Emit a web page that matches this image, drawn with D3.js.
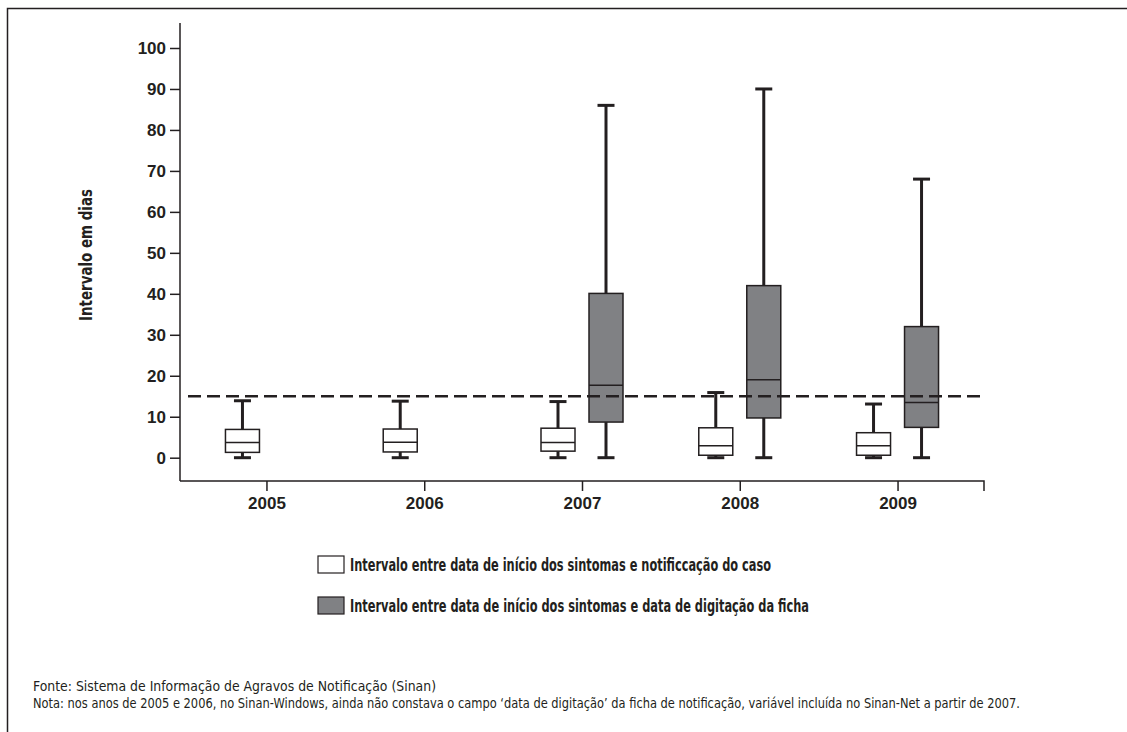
<!DOCTYPE html>
<html>
<head>
<meta charset="utf-8">
<script src="https://cdn.jsdelivr.net/npm/d3@7"></script>
<style>
  body { margin: 0; background: #fff; }
  svg text { font-family: "Liberation Sans Narrow", "DejaVu Sans Condensed", sans-serif; fill: #231f20; }
</style>
</head>
<body>
<div id="chart"></div>
<script>
// years on the x axis
const years = ["2005", "2006", "2007", "2008", "2009"];

// white boxes: início dos sintomas -> notificação
const notifLow = [0, 0, 0, 0, 0];
const notifQ1 = [1.3, 1.4, 1.6, 0.6, 0.6];
const notifMedian = [3.7, 3.75, 3.7, 2.9, 2.9];
const notifQ3 = [6.9, 7.0, 7.2, 7.3, 6.1];
const notifHigh = [13.9, 13.8, 13.7, 15.9, 13.1];

// gray boxes: início dos sintomas -> digitação (only from 2007)
const digitYears = ["2007", "2008", "2009"];
const digitLow = [0, 0, 0];
const digitQ1 = [8.7, 9.7, 7.4];
const digitMedian = [17.7, 19, 13.5];
const digitQ3 = [40.1, 42, 32];
const digitHigh = [86, 90, 68];

const yTicks = [0, 10, 20, 30, 40, 50, 60, 70, 80, 90, 100];
const refLine = 15;

const legendLabels = [
  "Intervalo entre data de início dos sintomas e notificcação do caso",
  "Intervalo entre data de início dos sintomas e data de digitação da ficha"
];
const footnotes = [
  "Fonte: Sistema de Informação de Agravos de Notificação (Sinan)",
  "Nota: nos anos de 2005 e 2006, no Sinan-Windows, ainda não constava o campo ‘data de digitação’ da ficha de notificação, variável incluída no Sinan-Net a partir de 2007."
];

const w = 1127, h = 732;
const ink = "#231f20";
const grayFill = "#808184";

const svg = d3.select("#chart").append("svg")
  .attr("width", w).attr("height", h);

// squeeze a text to a given width (the original uses a condensed face)
function fitWidth(sel, width) {
  sel.attr("textLength", width).attr("lengthAdjust", "spacingAndGlyphs");
}

// frame (top + left edges only)
svg.append("path")
  .attr("d", "M7.5,732 L7.5,8.5 L1127,8.5")
  .attr("fill", "none").attr("stroke", ink).attr("stroke-width", 1.5);

const x = d3.scalePoint().domain(years).range([180, 984]).padding(0.548);
const y = d3.scaleLinear().domain([0, 100]).range([457.7, 48]);

// y axis
const yAxis = svg.append("g").attr("transform", "translate(180,0)");
yAxis.append("line")
  .attr("x1", 0).attr("x2", 0).attr("y1", 23).attr("y2", 481)
  .attr("stroke", ink).attr("stroke-width", 1.5);
yAxis.call(d3.axisLeft(y).tickValues(yTicks).tickSize(10).tickSizeOuter(0).tickPadding(4))
  .call(g => g.select(".domain").remove());
yAxis.selectAll(".tick line").attr("stroke", ink).attr("stroke-width", 1.5);
yAxis.selectAll(".tick text").attr("font-size", 17).attr("font-weight", "bold")
  .style("font-family", "'Liberation Sans Narrow', sans-serif");

// x axis
const xAxis = svg.append("g").attr("transform", "translate(0,481)");
xAxis.call(d3.axisBottom(x).tickSize(10).tickSizeOuter(0).tickPadding(6));
xAxis.select(".domain").attr("d", "M180,0H984V10").attr("stroke", ink).attr("stroke-width", 1.5);
xAxis.selectAll(".tick line").attr("stroke", ink).attr("stroke-width", 1.5);
xAxis.selectAll(".tick text").attr("font-size", 17).attr("font-weight", "bold")
  .style("font-family", "'Liberation Sans Narrow', sans-serif");

// y axis title
svg.append("text")
  .attr("transform", "translate(92,255) rotate(-90)")
  .attr("text-anchor", "middle")
  .attr("font-size", 17).attr("font-weight", "bold")
  .text("Intervalo em dias")
  .call(fitWidth, 132);

const boxW = 34, capW = 17, offset = 24;

function drawBoxes(cls, cats, low, q1, med, q3, high, dx, fill) {
  const data = cats.map((c, i) => ({ c, low: low[i], q1: q1[i], med: med[i], q3: q3[i], high: high[i] }));
  const g = svg.append("g").attr("class", cls)
    .selectAll("g").data(data).join("g")
    .attr("transform", d => `translate(${x(d.c) + dx},0)`);
  // whiskers
  g.append("line").attr("x1", 0).attr("x2", 0)
    .attr("y1", d => y(d.high)).attr("y2", d => y(d.q3))
    .attr("stroke", ink).attr("stroke-width", 3);
  g.append("line").attr("x1", 0).attr("x2", 0)
    .attr("y1", d => y(d.q1)).attr("y2", d => y(d.low))
    .attr("stroke", ink).attr("stroke-width", 3);
  g.append("line").attr("x1", -capW / 2).attr("x2", capW / 2)
    .attr("y1", d => y(d.high)).attr("y2", d => y(d.high))
    .attr("stroke", ink).attr("stroke-width", 3);
  g.append("line").attr("x1", -capW / 2).attr("x2", capW / 2)
    .attr("y1", d => y(d.low)).attr("y2", d => y(d.low))
    .attr("stroke", ink).attr("stroke-width", 3);
  // box
  g.append("rect")
    .attr("x", -boxW / 2).attr("width", boxW)
    .attr("y", d => y(d.q3)).attr("height", d => y(d.q1) - y(d.q3))
    .attr("fill", fill).attr("stroke", ink).attr("stroke-width", 1.5);
  g.append("line").attr("x1", -boxW / 2).attr("x2", boxW / 2)
    .attr("y1", d => y(d.med)).attr("y2", d => y(d.med))
    .attr("stroke", ink).attr("stroke-width", 1.5);
}

drawBoxes("notif", years, notifLow, notifQ1, notifMedian, notifQ3, notifHigh, -offset, "#fff");
drawBoxes("digit", digitYears, digitLow, digitQ1, digitMedian, digitQ3, digitHigh, offset, grayFill);

// reference line at 15 days
svg.append("line")
  .attr("x1", 188).attr("x2", 982)
  .attr("y1", y(refLine)).attr("y2", y(refLine))
  .attr("stroke", ink).attr("stroke-width", 2.5)
  .attr("stroke-dasharray", "13,6");

// legend
const legendWidths = [421, 459];
const legend = svg.append("g").selectAll("g").data(legendLabels).join("g")
  .attr("transform", (d, i) => `translate(318,${556 + i * 41})`);
legend.append("rect")
  .attr("width", 26).attr("height", 17)
  .attr("fill", (d, i) => i === 0 ? "#fff" : grayFill)
  .attr("stroke", ink).attr("stroke-width", 1.2);
legend.append("text")
  .attr("x", 32).attr("y", 15)
  .attr("font-size", 17.5).attr("font-weight", "bold")
  .text(d => d)
  .each(function (d, i) { d3.select(this).call(fitWidth, legendWidths[i]); });

// footnotes
const footWidths = [403, 987];
svg.append("g").selectAll("text").data(footnotes).join("text")
  .attr("x", 33).attr("y", (d, i) => 691 + i * 16.5)
  .attr("font-size", 13.5)
  .text(d => d)
  .each(function (d, i) { d3.select(this).call(fitWidth, footWidths[i]); });
</script>
</body>
</html>
